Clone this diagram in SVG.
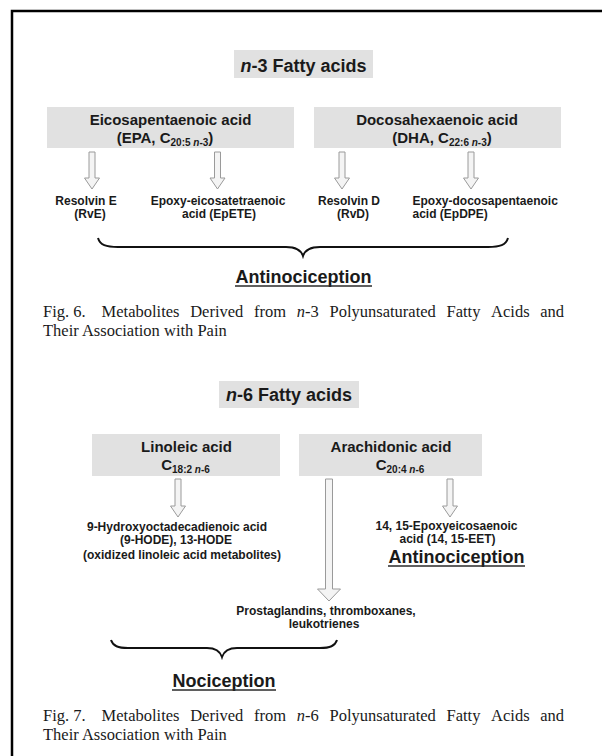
<svg xmlns="http://www.w3.org/2000/svg" width="602" height="756" viewBox="0 0 602 756">
<style>
.bg{fill:#ffffff}
.frame{fill:none;stroke:#000;stroke-width:2.5}
.box{fill:#e1e1e1}
.title{font-family:"Liberation Sans",Arial,sans-serif;font-weight:bold;font-size:18px;fill:#1a1a1a;text-anchor:middle}
.head{font-family:"Liberation Sans",Arial,sans-serif;font-weight:bold;font-size:15px;fill:#1a1a1a;text-anchor:middle}
.sub{font-size:10px}
.lbl{font-family:"Liberation Sans",Arial,sans-serif;font-weight:bold;font-size:12px;fill:#1a1a1a;text-anchor:middle}
.lbll{font-family:"Liberation Sans",Arial,sans-serif;font-weight:bold;font-size:12px;fill:#1a1a1a}
.eff{font-family:"Liberation Sans",Arial,sans-serif;font-weight:bold;font-size:18px;fill:#1a1a1a;text-anchor:middle}
.ul{stroke:#2a2a2a;stroke-width:1.6}
.arrow{fill:#f4f4f4;stroke:#9a9a9a;stroke-width:1}
.brace{fill:none;stroke:#111;stroke-width:2}
.cap{font-family:"Liberation Serif","Times New Roman",serif;font-size:16.5px;fill:#1a1a1a}
</style>
<rect class="bg" x="0" y="0" width="602" height="756"/>
<path class="frame" d="M12,760 V11 H606"/>

<g id="n3-title">
<rect class="box" x="234" y="50" width="139" height="28"/>
<text class="title" x="303.5" y="72"><tspan font-style="italic">n</tspan>-3 Fatty acids</text>
</g>
<g id="epa">
<rect class="box" x="47" y="107" width="247" height="41"/>
<text class="head" x="170.5" y="125">Eicosapentaenoic acid</text>
<text class="head" x="165" y="143">(EPA,  C<tspan class="sub" dy="3">20:5 <tspan font-style="italic">n</tspan>-3</tspan><tspan dy="-3">)</tspan></text>
</g>
<g id="dha">
<rect class="box" x="314" y="107" width="247" height="41"/>
<text class="head" x="437" y="125">Docosahexaenoic acid</text>
<text class="head" x="442" y="143">(DHA, C<tspan class="sub" dy="3">22:6 <tspan font-style="italic">n</tspan>-3</tspan><tspan dy="-3">)</tspan></text>
</g>
<g id="rve">
<text class="lbl" x="86" y="205">Resolvin E</text>
<text class="lbl" x="90" y="218">(RvE)</text>
</g>
<g id="epete">
<text class="lbl" x="218" y="205">Epoxy-eicosatetraenoic</text>
<text class="lbl" x="219" y="218">acid (EpETE)</text>
</g>
<g id="rvd">
<text class="lbl" x="349" y="205">Resolvin D</text>
<text class="lbl" x="353" y="218">(RvD)</text>
</g>
<g id="epdpe">
<text class="lbll" x="412.5" y="205">Epoxy-docosapentaenoic</text>
<text class="lbll" x="412.5" y="218">acid (EpDPE)</text>
</g>
<g id="antinociception-1">
<text class="eff" x="303.5" y="283">Antinociception</text>
<line class="ul" x1="235" y1="286" x2="372" y2="286"/>
</g>
<g id="caption-6">
<text class="cap" y="317"><tspan x="43">Fig.</tspan><tspan x="73.2">6.</tspan><tspan x="101.6">Metabolites</tspan><tspan x="190.2">Derived</tspan><tspan x="254">from</tspan><tspan x="296.8" font-style="italic">n</tspan><tspan>-3</tspan><tspan x="329.5">Polyunsaturated</tspan><tspan x="446.5">Fatty</tspan><tspan x="491.1">Acids</tspan><tspan x="540.2">and</tspan></text>
<text class="cap" x="43" y="336">Their Association with Pain</text>
</g>

<g id="n6-title">
<rect class="box" x="219" y="381" width="140" height="27"/>
<text class="title" x="289" y="401"><tspan font-style="italic">n</tspan>-6 Fatty acids</text>
</g>
<g id="linoleic">
<rect class="box" x="92" y="434" width="188" height="42"/>
<text class="head" x="186.5" y="452">Linoleic acid</text>
<text class="head" x="185.5" y="470">C<tspan class="sub" dy="3">18:2 <tspan font-style="italic">n</tspan>-6</tspan></text>
</g>
<g id="arachidonic">
<rect class="box" x="299" y="434" width="183" height="42"/>
<text class="head" x="391" y="452">Arachidonic acid</text>
<text class="head" x="400" y="470">C<tspan class="sub" dy="3">20:4 <tspan font-style="italic">n</tspan>-6</tspan></text>
</g>
<g id="hode">
<text class="lbl" x="177" y="531">9-Hydroxyoctadecadienoic acid</text>
<text class="lbl" x="176" y="544">(9-HODE), 13-HODE</text>
<text class="lbl" x="182" y="559">(oxidized linoleic acid metabolites)</text>
</g>
<g id="eet">
<text class="lbl" x="446.5" y="530">14, 15-Epoxyeicosaenoic</text>
<text class="lbl" x="447.5" y="543">acid (14, 15-EET)</text>
</g>
<g id="antinociception-2">
<text class="eff" x="456.5" y="563">Antinociception</text>
<line class="ul" x1="388" y1="566" x2="525" y2="566"/>
</g>
<g id="prostaglandins">
<text class="lbl" x="326" y="615">Prostaglandins, thromboxanes,</text>
<text class="lbl" x="324" y="628">leukotrienes</text>
</g>
<g id="nociception">
<text class="eff" x="224" y="687">Nociception</text>
<line class="ul" x1="172" y1="690" x2="276" y2="690"/>
</g>
<g id="caption-7">
<text class="cap" y="721"><tspan x="43">Fig.</tspan><tspan x="73.2">7.</tspan><tspan x="101.6">Metabolites</tspan><tspan x="190.2">Derived</tspan><tspan x="254">from</tspan><tspan x="296.8" font-style="italic">n</tspan><tspan>-6</tspan><tspan x="329.5">Polyunsaturated</tspan><tspan x="446.5">Fatty</tspan><tspan x="491.1">Acids</tspan><tspan x="540.2">and</tspan></text>
<text class="cap" x="43" y="740">Their Association with Pain</text>
</g>

<g id="connectors">
<polygon class="arrow" points="89,152 95,152 95,178 99.5,178 92,189 84.5,178 89,178"/>
<polygon class="arrow" points="214.5,152 220.5,152 220.5,178 225,178 217.5,189 210,178 214.5,178"/>
<polygon class="arrow" points="339,152 345,152 345,178 349.5,178 342,189 334.5,178 339,178"/>
<polygon class="arrow" points="468,152 474,152 474,178 478.5,178 471,189 463.5,178 468,178"/>
<path class="brace" d="M98,238 C100,245 106,247 118,247 L286,247 C296,247 301,250 303,256 C305,250 310,247 320,247 L488,247 C500,247 506,245 508,238"/>
<polygon class="arrow" points="175,479 181,479 181,506 185.5,506 178,517 170.5,506 175,506"/>
<polygon class="arrow" points="325.5,479 332.5,479 332.5,589 340.5,589 329,601 317.5,589 325.5,589"/>
<polygon class="arrow" points="447,479 453,479 453,506 457.5,506 450,517 442.5,506 447,506"/>
<path class="brace" d="M111,640 C113,646 118,648 128,648 L207,648 C216,648 220,651 222,657 C224,651 228,648 237,648 L320,648 C330,648 335,646 337,640"/>
</g>
</svg>
